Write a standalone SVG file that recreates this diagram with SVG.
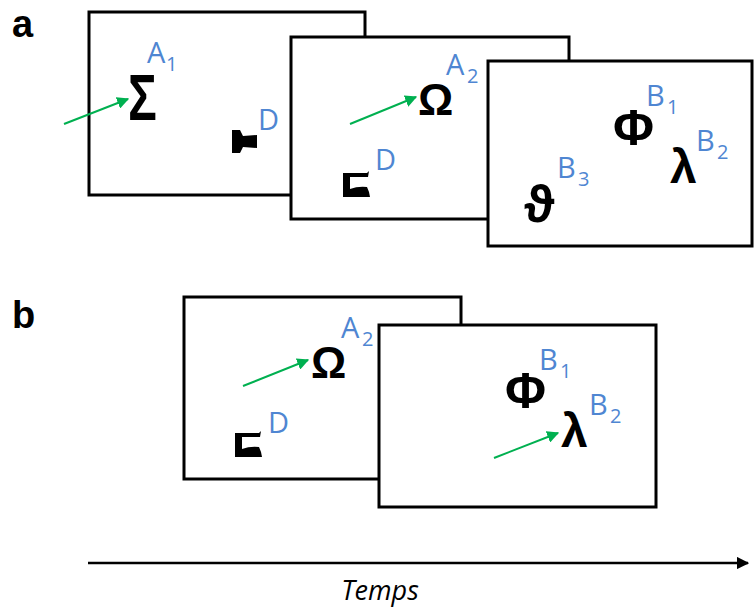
<svg xmlns="http://www.w3.org/2000/svg" width="755" height="608" viewBox="0 0 755 608">
<style>
.box{fill:#fff;stroke:#000;stroke-width:3}
.sym{font-family:"Liberation Sans",Arial,sans-serif;font-weight:bold;fill:#000}
.lab{font-family:"Open Sans","Liberation Sans",sans-serif;fill:#4f86d2;font-size:29px}
.sub{font-family:"Open Sans","Liberation Sans",sans-serif;fill:#4f86d2;font-size:20px}
.panel{font-family:"Liberation Sans",Arial,sans-serif;font-weight:bold;font-size:38px;fill:#000}
.garrow{stroke:#00b050;stroke-width:2;fill:none;marker-end:url(#gh)}
.glyph{fill:#000}
</style>
<defs>
<marker id="gh" viewBox="0 0 10 10" refX="9" refY="5" markerWidth="6" markerHeight="6" orient="auto" markerUnits="strokeWidth">
<path d="M0,0 L10,5 L0,10 Z" fill="#00b050"/>
</marker>
<marker id="bh" viewBox="0 0 10 10" refX="9" refY="5" markerWidth="5" markerHeight="5" orient="auto" markerUnits="strokeWidth">
<path d="M0,0 L10,5 L0,10 Z" fill="#000"/>
</marker>
<path id="dglyph" d="M0,0 L24,0 L26,-2 L25,4 L7,4 L7,16 Q15,13 24,14 L26,19 L27,24 L0,24 Z"/>
</defs>

<text class="panel" x="12" y="37">a</text>
<text class="panel" x="12" y="328">b</text>

<g id="a-frame1">
<rect class="box" x="89" y="12" width="276" height="183"/>
<text class="sym" font-size="64" transform="translate(128,120) scale(0.75,1)">Σ</text>
<text class="lab" x="147" y="63">A</text>
<text class="sub" x="166" y="71">1</text>
<path class="glyph" d="M232,130 L240,130 L243,136 L257,135 L257,148 L243,147 L240,153 L232,153 Z"/>
<text class="lab" x="258" y="130">D</text>
</g>

<g id="a-frame2">
<rect class="box" x="291" y="37" width="278" height="182"/>
<text class="sym" x="418" y="115" font-size="44">Ω</text>
<text class="lab" x="446" y="75">A</text>
<text class="sub" x="467" y="83">2</text>
<use href="#dglyph" x="343" y="173"/>
<text class="lab" x="375" y="170">D</text>
</g>

<g id="a-frame3">
<rect class="box" x="488" y="61" width="264" height="185"/>
<text class="sym" x="613" y="145" font-size="50">Φ</text>
<text class="lab" x="646" y="106">B</text>
<text class="sub" x="667" y="114">1</text>
<text class="sym" x="670" y="183" font-size="48">λ</text>
<text class="lab" x="696" y="151">B</text>
<text class="sub" x="717" y="159">2</text>
<text class="sym" x="524" y="222" font-size="52">ϑ</text>
<text class="lab" x="557" y="178">B</text>
<text class="sub" x="578" y="186">3</text>
</g>

<g id="b-frame1">
<rect class="box" x="184" y="297" width="277" height="182"/>
<text class="sym" x="311" y="378" font-size="44">Ω</text>
<text class="lab" x="341" y="338">A</text>
<text class="sub" x="362" y="346">2</text>
<use href="#dglyph" x="235" y="433"/>
<text class="lab" x="268" y="433">D</text>
</g>

<g id="b-frame2">
<rect class="box" x="379" y="325" width="277" height="182"/>
<text class="sym" x="505" y="408" font-size="50">Φ</text>
<text class="lab" x="539" y="370">B</text>
<text class="sub" x="560" y="378">1</text>
<text class="sym" x="561" y="447" font-size="48">λ</text>
<text class="lab" x="589" y="415">B</text>
<text class="sub" x="610" y="423">2</text>
</g>

<g id="connectors">
<line class="garrow" x1="64" y1="124" x2="128" y2="99"/>
<line class="garrow" x1="350" y1="124" x2="416" y2="97"/>
<line class="garrow" x1="243" y1="386" x2="308" y2="360"/>
<line class="garrow" x1="494" y1="458" x2="558" y2="433"/>
<line x1="88" y1="563" x2="748" y2="563" stroke="#000" stroke-width="2.5" marker-end="url(#bh)"/>
</g>
<text x="380" y="600" text-anchor="middle" font-family="Open Sans, Liberation Sans, sans-serif" font-style="italic" font-size="27" fill="#000">Temps</text>
</svg>
